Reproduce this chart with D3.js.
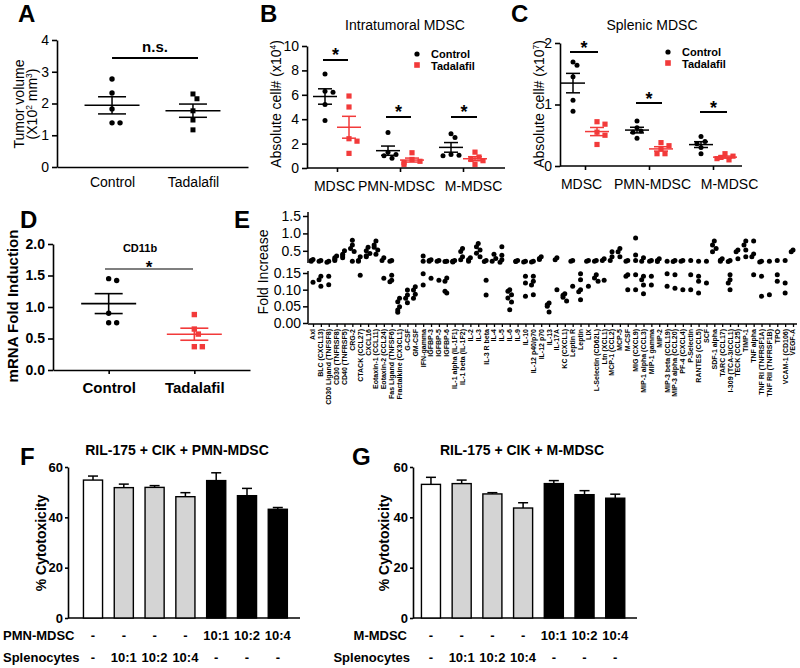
<!DOCTYPE html>
<html><head><meta charset="utf-8">
<script src="https://cdn.jsdelivr.net/npm/d3@7"></script>
<style>body{margin:0;background:#fff} svg text{font-family:Arial,"Liberation Sans",Helvetica,sans-serif;fill:#000}</style>
</head><body><svg id="c" width="800" height="668"></svg>
<script>
// ---------------- DATA ----------------
const groupsAD = ["Control", "Tadalafil"];
const tumorControl = [2.77, 2.33, 1.83, 1.39, 1.39];
const tumorTadalafil = [2.3, 2.15, 1.77, 1.48, 1.17];
const tumorTicks = [0, 1, 2, 3, 4];

const mdscCats = ["MDSC", "PMN-MDSC", "M-MDSC"];
const intraControl = [[7.7, 6.3, 6.2, 5.2, 3.9], [2.9, 1.3, 1.1, 1.0, 0.8], [2.8, 2.5, 1.1, 1.05, 1.0]];
const intraTadalafil = [[5.9, 5.0, 2.4, 2.2, 1.2], [1.25, 0.7, 0.55, 0.45, 0.3], [1.3, 0.9, 0.7, 0.6, 0.3]];
const intraTicks = [0, 2, 4, 6, 8, 10];

const splenControl = [[1.69, 1.64, 1.45, 1.07, 0.89], [0.73, 0.62, 0.57, 0.55, 0.45], [0.48, 0.4, 0.36, 0.3, 0.2]];
const splenTadalafil = [[0.72, 0.68, 0.55, 0.5, 0.35], [0.38, 0.33, 0.28, 0.2, 0.2], [0.2, 0.16, 0.14, 0.12, 0.1]];
const splenTicks = [0, 1, 2];

const cd11bControl = [1.45, 1.42, 0.9, 0.75, 0.75];
const cd11bTadalafil = [0.88, 0.65, 0.57, 0.37, 0.37];
const cd11bTicks = [0, 0.5, 1.0, 1.5, 2.0];

const cytokines = ["Axl","BLC (CXCL13)","CD30 Ligand (TNFSF8)","CD30 (TNFRSF8)","CD40 (TNFRSF5)","CRG-2","CTACK (CCL27)","CXCL16","Eotaxin-1 (CCL11)","Eotaxin-2 (CCL24)","Fas Ligand (TNFSF6)","Fractalkine (CX3CL1)","G-CSF","GM-CSF","IFN-gamma","IGFBP-3","IGFBP-5","IGFBP-6","IL-1 alpha (IL-1F1)","IL-1 beta (IL-1F2)","IL-2","IL-3","IL-3 R beta","IL-4","IL-5","IL-6","IL-9","IL-10","IL-12 p40/p70","IL-12 p70","IL-13","IL-17A","KC (CXCL1)","Leptin R","Leptin","LIX","L-Selectin (CD62L)","Ltn (XCL1)","MCP-1 (CCL2)","MCP-5","M-CSF","MIG (CXCL9)","MIP-1 alpha (CCL3)","MIP-1 gamma","MIP-2","MIP-3 beta (CCL19)","MIP-3 alpha (CCL20)","PF-4 (CXCL4)","P-Selectin","RANTES (CCL5)","SCF","SDF-1 alpha","TARC (CCL17)","I-309 (TCA-3/CCL1)","TECK (CCL25)","TIMP-1","TNF alpha","TNF RI (TNFRSF1A)","TNF RII (TNFRSF1B)","TPO","VCAM-1 (CD106)","VEGF-A"];
const foldIncrease = [
  [0.25,0.22,0.2,0.122],[0.22,0.2,0.14,0.13,0.11],[0.2,0.17,0.14,0.115],[0.35,0.3,0.26,0.22],[0.5,0.4,0.35,0.3],
  [0.8,0.67,0.57,0.48,0.2],[0.33,0.22,0.2,0.143],[0.6,0.5,0.42,0.36,0.33],[0.78,0.67,0.6,0.52,0.4],[0.3,0.22,0.134],
  [0.22,0.2,0.143,0.128,0.124],[0.074,0.064,0.049,0.039,0.032],[0.099,0.084,0.074,0.061],[0.109,0.099,0.086,0.074],[0.35,0.2,0.148,0.114],
  [0.24,0.22,0.2,0.134],[0.22,0.2,0.128],[0.2,0.19,0.135,0.125,0.09,0.095],[0.22,0.2,0.19,0.18],[0.57,0.48,0.33,0.24],
  [0.3,0.24,0.2],[0.71,0.62,0.52,0.43,0.33],[0.22,0.19,0.128,0.084],[0.4,0.28,0.2],[0.62,0.37,0.24,0.17],
  [0.1,0.095,0.085,0.075,0.063,0.04],[0.22,0.2,0.19],[0.2,0.18,0.14,0.12,0.08],[0.2,0.18,0.14,0.125,0.114,0.085],[0.33,0.28,0.25],
  [0.06,0.055,0.05,0.033],[0.3,0.24,0.1],[0.088,0.083,0.077,0.066],[0.22,0.2,0.11],[0.148,0.13,0.1,0.094,0.07],
  [0.22,0.2,0.11],[0.22,0.2,0.145,0.135,0.125],[0.27,0.22,0.128],[0.47,0.33,0.22],[0.57,0.47,0.33],
  [0.22,0.2,0.145,0.14,0.1],[0.87,0.38,0.22,0.145,0.1],[0.3,0.2,0.14,0.13,0.114,0.088],[0.22,0.2,0.14,0.114],[0.27,0.22,0.19],
  [0.2,0.148,0.11],[0.22,0.19,0.145,0.104],[0.22,0.2,0.1],[0.22,0.145,0.1],[0.2,0.14,0.125,0.09],
  [0.2,0.12],[0.78,0.67,0.57,0.47],[0.27,0.23,0.2],[0.22,0.19,0.145,0.13,0.12,0.1],[0.52,0.47,0.27],
  [0.78,0.67,0.52,0.33],[0.78,0.41,0.33,0.145],[0.2,0.18,0.14,0.08],[0.2,0.085],[0.22,0.145,0.125],
  [0.22,0.12,0.09],[0.52,0.47]
];
const foldUpperTicks = [0.5, 1.0, 1.5];
const foldLowerTicks = [0, 0.05, 0.10, 0.15];

const barConditions = ["c1","c2","c3","c4","c5","c6","c7"];
const pmnCytotox = [54.8, 51.8, 51.9, 48.2, 54.6, 48.6, 43.2];
const pmnCytotoxErr = [1.6, 1.4, 0.7, 1.6, 3.1, 2.9, 0.7];
const mCytotox = [53.1, 53.4, 49.3, 43.7, 53.4, 49.0, 47.6];
const mCytotoxErr = [2.8, 1.4, 0.5, 2.1, 1.2, 1.6, 1.6];
const barFill = ["white","gray","gray","gray","black","black","black"];
const mdscRatio = ["-","-","-","-","10:1","10:2","10:4"];
const splenRatio = ["-","10:1","10:2","10:4","-","-","-"];
const cytoTicks = [0, 20, 40, 60];

// ---------------- DRAW ----------------
const svg = d3.select("#c");
const RED = "#f23a3a";
const fillMap = {white: "#ffffff", gray: "#d4d4d4", black: "#000000"};

function letter(t, x, y) {
  svg.append("text").attr("x", x).attr("y", y).attr("font-size", 24).attr("font-weight", "bold").text(t);
}
function styleAxis(g, sw, fs, fw) {
  g.selectAll("path,line").attr("stroke", "#000").attr("stroke-width", sw);
  g.selectAll("text").attr("font-size", fs).attr("font-weight", fw || "normal").attr("fill", "#000")
    .style("font-family", "Arial, 'Liberation Sans', sans-serif");
}
function swarm(vals, cx, y, r, step, maxK) {
  const placed = [];
  return vals.map(v => {
    const py = y(v);
    const offs = [0];
    for (let i = 1; i <= maxK; i++) offs.push(i * step, -i * step);
    let px = cx;
    for (const o of offs) {
      px = cx + o;
      if (placed.every(p => Math.hypot(p[0] - px, p[1] - py) >= 2 * r)) break;
    }
    placed.push([px, py]);
    return [px, py];
  });
}
function drawPoints(g, pts, shape, color, r) {
  if (shape === "circle") {
    g.selectAll(null).data(pts).enter().append("circle")
      .attr("cx", d => d[0]).attr("cy", d => d[1]).attr("r", r).attr("fill", color);
  } else {
    g.selectAll(null).data(pts).enter().append("rect")
      .attr("x", d => d[0] - r).attr("y", d => d[1] - r).attr("width", 2 * r).attr("height", 2 * r).attr("fill", color);
  }
}
function meanSem(g, vals, cx, y, color, wMean, wSem, sw) {
  const m = d3.mean(vals), s = d3.deviation(vals) / Math.sqrt(vals.length);
  const L = (x1, y1, x2, y2) => g.append("line").attr("x1", x1).attr("y1", y1).attr("x2", x2).attr("y2", y2)
    .attr("stroke", color).attr("stroke-width", sw);
  L(cx - wMean / 2, y(m), cx + wMean / 2, y(m));
  L(cx - wSem / 2, y(m + s), cx + wSem / 2, y(m + s));
  L(cx - wSem / 2, y(m - s), cx + wSem / 2, y(m - s));
  L(cx, y(m + s), cx, y(m - s));
}
function sig(g, x1, x2, yy, txt, fs, dy) {
  g.append("line").attr("x1", x1).attr("x2", x2).attr("y1", yy).attr("y2", yy).attr("stroke", "#000").attr("stroke-width", 2);
  g.append("text").attr("x", (x1 + x2) / 2).attr("y", yy + dy).attr("text-anchor", "middle")
    .attr("font-size", fs).attr("font-weight", "bold").text(txt);
}
function rotLabel(lines, x, cy, fs, fw, lh) {
  const t = svg.append("text").attr("transform", `translate(${x},${cy}) rotate(-90)`)
    .attr("text-anchor", "middle").attr("font-size", fs).attr("font-weight", fw || "normal");
  lines.forEach((l, i) => {
    const ts = t.append("tspan").attr("x", 0).attr("dy", i === 0 ? 0 : (lh || fs * 1.05));
    l.forEach(part => {
      const p = ts.append("tspan").text(part.t);
      if (part.sup) p.attr("font-size", fs * 0.6).attr("dy", -fs * 0.35);
      if (part.after) p.attr("dy", fs * 0.35);
    });
  });
  return t;
}

// ---- Panel A ----
(function () {
  const g = svg.append("g");
  letter("A", 18, 22);
  const y = d3.scaleLinear().domain([0, 4]).range([167, 40]);
  const x = d3.scalePoint().domain(groupsAD).range([57, 248]).padding(0.68);
  styleAxis(g.append("g").attr("transform", "translate(57,0)").call(d3.axisLeft(y).tickValues(tumorTicks).tickFormat(d3.format("d")).tickSize(5).tickSizeOuter(0).tickPadding(3)), 1.6, 14);
  styleAxis(g.append("g").attr("transform", "translate(0,167)").call(d3.axisBottom(x).tickSize(0).tickSizeOuter(0).tickPadding(10)), 1.6, 14);
  drawPoints(g, swarm(tumorControl, x("Control"), y, 2.7, 4, 2), "circle", "#000", 2.7);
  drawPoints(g, swarm(tumorTadalafil, x("Tadalafil"), y, 2.5, 4, 2), "square", "#000", 2.5);
  meanSem(g, tumorControl, x("Control"), y, "#000", 55, 28, 1.5);
  meanSem(g, tumorTadalafil, x("Tadalafil"), y, "#000", 55, 28, 1.5);
  sig(g, x("Control"), 198, 58, "n.s.", 15, -6);
  rotLabel([[{t: "Tumor volume"}], [{t: "(X10"}, {t: "2", sup: 1}, {t: " mm", after: 1}, {t: "3", sup: 1}, {t: ")", after: 1}]], 24, 104, 14, "normal", 13);
})();

// ---- Panels B & C ----
function groupPanel(opt) {
  const g = svg.append("g");
  letter(opt.letter, opt.lx, 22);
  const y = d3.scaleLinear().domain(opt.domain).range([opt.y0, opt.y1]);
  const x = d3.scalePoint().domain(mdscCats).range(opt.centers);
  styleAxis(g.append("g").attr("transform", `translate(${opt.ax},0)`).call(d3.axisLeft(y).tickValues(opt.ticks).tickFormat(d3.format("d")).tickSize(5).tickSizeOuter(0).tickPadding(3)), 1.6, 14);
  const xa = g.append("g").attr("transform", `translate(0,${opt.y0})`).call(d3.axisBottom(x).tickSize(4).tickSizeOuter(0).tickPadding(9));
  xa.select(".domain").remove();
  styleAxis(xa, 1.6, 14);
  xa.selectAll(".tick text").attr("dx", (d, i) => opt.labelDx[i]);
  g.append("line").attr("x1", opt.ax).attr("x2", opt.axEnd).attr("y1", opt.y0).attr("y2", opt.y0).attr("stroke", "#000").attr("stroke-width", 1.6);
  mdscCats.forEach((c, i) => {
    const cx = x(c);
    drawPoints(g, swarm(opt.ctrl[i], cx - 12, y, 2.5, 4, 2), "circle", "#000", 2.5);
    drawPoints(g, swarm(opt.tad[i], cx + 12, y, 2.6, 4, 2), "square", RED, 2.6);
    meanSem(g, opt.ctrl[i], cx - 12, y, "#000", 24, 14, 1.5);
    meanSem(g, opt.tad[i], cx + 12, y, RED, 24, 14, 1.5);
    sig(g, opt.sig[i][0] + cx, opt.sig[i][1] + cx, opt.sig[i][2], "*", 18, opt.starDy);
  });
  svg.append("text").attr("x", opt.tx).attr("y", 30).attr("text-anchor", "middle").attr("font-size", 14).text(opt.title);
  rotLabel([[{t: "Absolute cell# (x10"}, {t: opt.exp, sup: 1}, {t: ")", after: 1}]], opt.ylx, 104, 14);
  // legend
  const lg = svg.append("g");
  lg.append("circle").attr("cx", opt.leg[0]).attr("cy", opt.leg[1]).attr("r", 2.6).attr("fill", "#000");
  lg.append("rect").attr("x", opt.leg[0] - 2.8).attr("y", opt.leg[1] + 11 - 2.8).attr("width", 5.6).attr("height", 5.6).attr("fill", RED);
  groupsAD.forEach((t, i) => lg.append("text").attr("x", opt.leg[0] + 14).attr("y", opt.leg[1] + 4 + i * 12).attr("font-size", 11).attr("font-weight", "bold").text(t));
}
groupPanel({letter: "B", lx: 260, domain: [0, 10], y0: 168, y1: 46, ax: 307, axEnd: 505, centers: [337, 463],
  ticks: intraTicks, ctrl: intraControl, tad: intraTadalafil, title: "Intratumoral MDSC", tx: 405, exp: "4", ylx: 281,
  sig: [[-14, 11, 60], [-14, 11, 117], [-12, 14, 117]], starDy: 1, leg: [417, 54], labelDx: [-3, -4, 10]});
groupPanel({letter: "C", lx: 511, domain: [0, 2], y0: 166, y1: 43, ax: 560, axEnd: 742, centers: [585, 713],
  ticks: splenTicks, ctrl: splenControl, tad: splenTadalafil, title: "Splenic MDSC", tx: 652, exp: "7", ylx: 544,
  sig: [[-15, 13, 52], [-13, 13, 103], [-13, 14, 112]], starDy: 2, leg: [668, 52], labelDx: [-4, 3, 16]});

// ---- Panel D ----
(function () {
  const g = svg.append("g");
  letter("D", 20, 228);
  const y = d3.scaleLinear().domain([0, 2]).range([370, 244]);
  const x = d3.scalePoint().domain(groupsAD).range([53, 250]).padding(0.65);
  styleAxis(g.append("g").attr("transform", "translate(53,0)").call(d3.axisLeft(y).tickValues(cd11bTicks).tickFormat(d3.format(".1f")).tickSize(5).tickSizeOuter(0).tickPadding(3)), 1.6, 14, "bold");
  styleAxis(g.append("g").attr("transform", "translate(0,370)").call(d3.axisBottom(x).tickSize(4).tickSizeOuter(0).tickPadding(8)), 1.6, 15, "bold");
  drawPoints(g, swarm(cd11bControl, x("Control"), y, 2.7, 4, 2), "circle", "#000", 2.7);
  drawPoints(g, swarm(cd11bTadalafil, x("Tadalafil"), y, 2.7, 4, 2), "square", RED, 2.7);
  meanSem(g, cd11bControl, x("Control"), y, "#000", 55, 28, 1.6);
  meanSem(g, cd11bTadalafil, x("Tadalafil"), y, RED, 55, 28, 1.6);
  g.append("line").attr("x1", 105).attr("x2", 193).attr("y1", 269).attr("y2", 269).attr("stroke", "#000").attr("stroke-width", 1.2);
  g.append("text").attr("x", 149).attr("y", 273).attr("text-anchor", "middle").attr("font-size", 17).attr("font-weight", "bold").text("*");
  g.append("text").attr("x", 140).attr("y", 252).attr("text-anchor", "middle").attr("font-size", 11).attr("font-weight", "bold").text("CD11b");
  rotLabel([[{t: "mRNA Fold Induction"}]], 18, 306, 15, "bold");
})();

// ---- Panel E ----
(function () {
  const g = svg.append("g");
  letter("E", 234, 228);
  const yUp = d3.scaleLinear().domain([0.15, 1.5]).range([263, 216]);
  const yLo = d3.scaleLinear().domain([0, 0.15]).range([323, 273]);
  const yv = v => v >= 0.15 ? yUp(v) : yLo(v);
  const x = d3.scalePoint().domain(cytokines).range([313, 793]);
  const up = g.append("g").attr("transform", "translate(308,0)").call(d3.axisLeft(yUp).tickValues(foldUpperTicks).tickFormat(d3.format(".1f")).tickSize(5).tickSizeOuter(0).tickPadding(2));
  up.select(".domain").attr("d", "M0,263V212");
  styleAxis(up, 1.5, 14);
  const lo = g.append("g").attr("transform", "translate(308,0)").call(d3.axisLeft(yLo).tickValues(foldLowerTicks).tickFormat(d3.format(".2f")).tickSize(5).tickSizeOuter(0).tickPadding(2));
  lo.select(".domain").attr("d", "M0,323V271");
  styleAxis(lo, 1.5, 14);
  const xa = g.append("g").attr("transform", "translate(0,324)").call(d3.axisBottom(x).tickSize(3).tickSizeOuter(0).tickFormat(""));
  xa.select(".domain").attr("d", "M308,0H797");
  styleAxis(xa, 1.3, 7);
  g.selectAll(".elab").data(cytokines).enter().append("text")
    .attr("transform", d => `translate(${x(d)},329) rotate(-90)`)
    .attr("text-anchor", "end").attr("dy", "0.35em").attr("font-size", 7).attr("font-weight", "bold").text(d => d);
  cytokines.forEach((c, i) => {
    const pts = swarm(foldIncrease[i], x(c), yv, 2.2, 1.8, 1);
    drawPoints(g, pts, "circle", "#000", 2.5);
  });
  rotLabel([[{t: "Fold Increase"}]], 268, 272, 14);
})();

// ---- Panels F & G ----
function barPanel(opt) {
  const g = svg.append("g");
  letter(opt.letter, opt.lx, 465);
  const y = d3.scaleLinear().domain([0, 60]).range([618, 467]);
  const x = d3.scaleBand().domain(barConditions).range(opt.range).paddingInner(0.38).paddingOuter(0.19);
  styleAxis(g.append("g").attr("transform", `translate(${opt.ax},0)`).call(d3.axisLeft(y).tickValues(cytoTicks).tickSize(3).tickSizeOuter(0).tickPadding(2)), 1.6, 13, "bold");
  g.append("line").attr("x1", opt.ax).attr("x2", opt.axEnd).attr("y1", 618).attr("y2", 618).attr("stroke", "#000").attr("stroke-width", 1.6);
  barConditions.forEach((c, i) => {
    const cx = x(c) + x.bandwidth() / 2;
    g.append("line").attr("x1", cx).attr("x2", cx).attr("y1", y(opt.vals[i])).attr("y2", y(opt.vals[i] + opt.err[i])).attr("stroke", "#000").attr("stroke-width", 1.5);
    g.append("line").attr("x1", cx - 5).attr("x2", cx + 5).attr("y1", y(opt.vals[i] + opt.err[i])).attr("y2", y(opt.vals[i] + opt.err[i])).attr("stroke", "#000").attr("stroke-width", 1.5);
    g.append("rect").attr("x", x(c)).attr("y", y(opt.vals[i])).attr("width", x.bandwidth()).attr("height", y(0) - y(opt.vals[i]))
      .attr("fill", fillMap[barFill[i]]).attr("stroke", "#000").attr("stroke-width", 1.4);
    g.append("text").attr("x", cx).attr("y", 640).attr("text-anchor", "middle").attr("font-size", 13).attr("font-weight", "bold").text(mdscRatio[i]);
    g.append("text").attr("x", cx).attr("y", 662).attr("text-anchor", "middle").attr("font-size", 13).attr("font-weight", "bold").text(splenRatio[i]);
  });
  svg.append("text").attr("x", opt.tx).attr("y", 455).attr("text-anchor", "middle").attr("font-size", 14).attr("font-weight", "bold").text(opt.title);
  svg.append("text").attr("x", opt.rowX).attr("y", 640).attr("text-anchor", opt.anchor).attr("font-size", 13).attr("font-weight", "bold").text(opt.rowName);
  svg.append("text").attr("x", opt.rowX2).attr("y", 662).attr("text-anchor", opt.anchor).attr("font-size", 13).attr("font-weight", "bold").text("Splenocytes");
  rotLabel([[{t: "% Cytotoxicity"}]], opt.ylx, 543, 14, "bold");
}
barPanel({letter: "F", lx: 20, range: [77.6, 293.2], ax: 68, axEnd: 300, vals: pmnCytotox, err: pmnCytotoxErr,
  title: "RIL-175 + CIK + PMN-MDSC", tx: 177, rowName: "PMN-MDSC", rowX: 3, rowX2: 3, anchor: "start", ylx: 46});
barPanel({letter: "G", lx: 352, range: [415.6, 630.6], ax: 413, axEnd: 637, vals: mCytotox, err: mCytotoxErr,
  title: "RIL-175 + CIK + M-MDSC", tx: 522, rowName: "M-MDSC", rowX: 407, rowX2: 410, anchor: "end", ylx: 389});
</script></body></html>
